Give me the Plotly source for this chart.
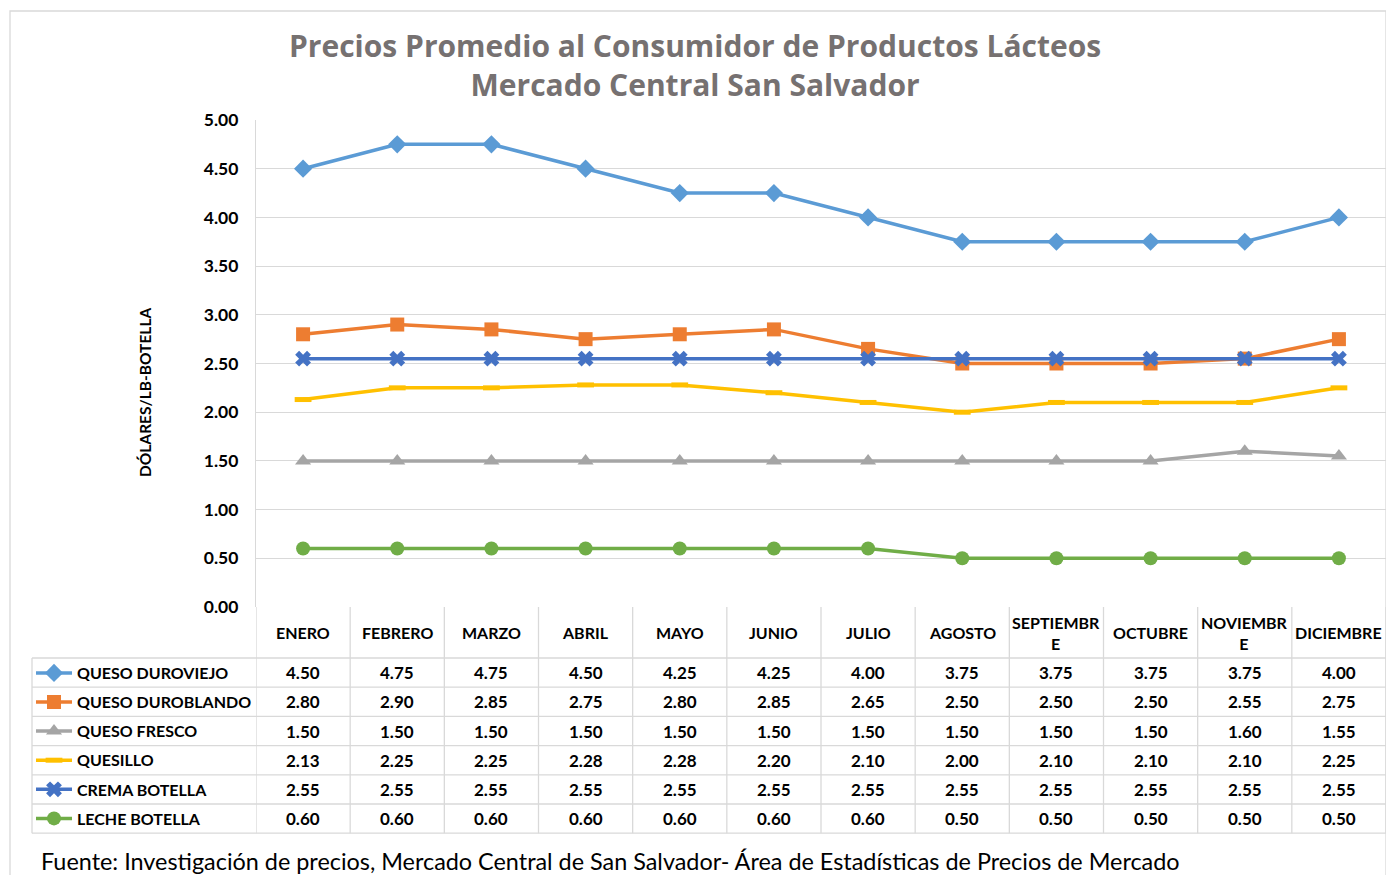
import plotly.graph_objects as go

W, H = 1394, 875
OFF = 8  # default page body margin
FW, FH = W - OFF, H - OFF

months = ["ENERO", "FEBRERO", "MARZO", "ABRIL", "MAYO", "JUNIO", "JULIO",
          "AGOSTO", "SEPTIEMBRE", "OCTUBRE", "NOVIEMBRE", "DICIEMBRE"]
month_labels = ["ENERO", "FEBRERO", "MARZO", "ABRIL", "MAYO", "JUNIO", "JULIO",
                "AGOSTO", "SEPTIEMBR<br>E", "OCTUBRE", "NOVIEMBR<br>E", "DICIEMBRE"]

series_names = ["QUESO DUROVIEJO", "QUESO DUROBLANDO", "QUESO FRESCO",
                "QUESILLO", "CREMA BOTELLA", "LECHE BOTELLA"]
queso_duroviejo = [4.50, 4.75, 4.75, 4.50, 4.25, 4.25, 4.00, 3.75, 3.75, 3.75, 3.75, 4.00]
queso_duroblando = [2.80, 2.90, 2.85, 2.75, 2.80, 2.85, 2.65, 2.50, 2.50, 2.50, 2.55, 2.75]
queso_fresco = [1.50, 1.50, 1.50, 1.50, 1.50, 1.50, 1.50, 1.50, 1.50, 1.50, 1.60, 1.55]
quesillo = [2.13, 2.25, 2.25, 2.28, 2.28, 2.20, 2.10, 2.00, 2.10, 2.10, 2.10, 2.25]
crema_botella = [2.55, 2.55, 2.55, 2.55, 2.55, 2.55, 2.55, 2.55, 2.55, 2.55, 2.55, 2.55]
leche_botella = [0.60, 0.60, 0.60, 0.60, 0.60, 0.60, 0.60, 0.50, 0.50, 0.50, 0.50, 0.50]
series_values = [queso_duroviejo, queso_duroblando, queso_fresco,
                 quesillo, crema_botella, leche_botella]

y_tick_values = [0, 0.5, 1.0, 1.5, 2.0, 2.5, 3.0, 3.5, 4.0, 4.5, 5.0]
y_tick_labels = ["0.00", "0.50", "1.00", "1.50", "2.00", "2.50",
                 "3.00", "3.50", "4.00", "4.50", "5.00"]

title_text = "Precios Promedio al Consumidor de Productos Lácteos<br>Mercado Central San Salvador"
y_title = "DÓLARES/LB-BOTELLA"
source_text = "Fuente: Investigación de precios, Mercado Central de San Salvador- Área de Estadísticas de Precios de Mercado"

# styles
colors = ["#5B9BD5", "#ED7D31", "#A5A5A5", "#FFC000", "#4472C4", "#70AD47"]
symbols = ["diamond", "square", "triangle-up", "line-ew", "x", "circle"]
sizes = [14, 14, 14, 12, 14, 14]

FONT = "Lato"
GRID = "#D9D9D9"


def px_x(p):
    return (p - OFF) / FW


def px_y(p):
    return 1 - (p - OFF) / FH


plot_left, plot_right = 256, 1386
plot_top, plot_bottom = 120, 607
table_left = 32
header_bottom = 658
row_h = 29.2

fig = go.Figure()

for i, (name, vals) in enumerate(zip(series_names, series_values)):
    mk = dict(symbol=symbols[i], size=sizes[i], color=colors[i])
    if symbols[i] == "line-ew":
        mk.update(line=dict(color=colors[i], width=5))
    else:
        mk.update(line=dict(color=colors[i], width=0))
    fig.add_trace(go.Scatter(
        x=list(range(len(months))), y=vals, name=name,
        mode="lines+markers",
        line=dict(color=colors[i], width=3.5),
        marker=mk, legendgroup=name,
    ))

annotations = []
shapes = []

# Title
annotations.append(dict(
    text=title_text, x=px_x(695), y=px_y(65), xref="paper", yref="paper",
    showarrow=False, xanchor="center", yanchor="middle",
    font=dict(family="Open Sans", size=30, color="#767171", weight="bold"),
))

# Y title
annotations.append(dict(
    text=y_title, x=px_x(145), y=px_y(393), xref="paper", yref="paper",
    showarrow=False, textangle=-90, xanchor="center", yanchor="middle",
    font=dict(family=FONT, size=15.5, color="#000000", weight="bold"),
))

# Header labels
for j, lab in enumerate(month_labels):
    annotations.append(dict(
        text=lab, x=j, y=px_y((plot_bottom + header_bottom) / 2), xref="x", yref="paper",
        showarrow=False, xanchor="center", yanchor="middle",
        font=dict(family=FONT, size=16, color="#000000", weight="bold"),
    ))

# Table values
for i, vals in enumerate(series_values):
    yc = header_bottom + row_h * (i + 0.5)
    for j, v in enumerate(vals):
        annotations.append(dict(
            text=f"{v:.2f}", x=j, y=px_y(yc), xref="x", yref="paper",
            showarrow=False, xanchor="center", yanchor="middle",
            font=dict(family=FONT, size=17, color="#000000", weight="bold"),
        ))

# Source
annotations.append(dict(
    text=source_text, x=px_x(39), y=px_y(861), xref="paper", yref="paper",
    showarrow=False, xanchor="left", yanchor="middle",
    font=dict(family=FONT, size=23.4, color="#000000"),
))

# Table grid lines
table_bottom = header_bottom + row_h * len(series_names)
for k in range(len(months) + 1):
    shapes.append(dict(type="line", xref="x", yref="paper",
                       x0=k - 0.5, x1=k - 0.5, y0=px_y(plot_bottom), y1=px_y(table_bottom),
                       line=dict(color=GRID, width=1.3)))
for r in range(len(series_names) + 1):
    yy = header_bottom + row_h * r
    shapes.append(dict(type="line", xref="paper", yref="paper",
                       x0=px_x(table_left), x1=px_x(plot_right), y0=px_y(yy), y1=px_y(yy),
                       line=dict(color=GRID, width=1.3)))
shapes.append(dict(type="line", xref="paper", yref="paper",
                   x0=px_x(table_left), x1=px_x(table_left),
                   y0=px_y(header_bottom), y1=px_y(table_bottom),
                   line=dict(color=GRID, width=1.3)))
# Outer chart border
shapes.append(dict(type="rect", xref="paper", yref="paper",
                   x0=px_x(10), x1=px_x(1386), y0=px_y(11), y1=px_y(885),
                   line=dict(color=GRID, width=1.3)))

fig.update_layout(
    width=FW, height=FH,
    margin=dict(l=0, r=0, t=0, b=0, autoexpand=False),
    paper_bgcolor="white", plot_bgcolor="white",
    annotations=annotations, shapes=shapes,
    showlegend=True,
    legend=dict(
        x=px_x(31), y=px_y(header_bottom - 2), xanchor="left", yanchor="top",
        font=dict(family=FONT, size=16, color="#000000", weight="bold"),
        tracegroupgap=5.3, itemwidth=36, bgcolor="rgba(0,0,0,0)",
        borderwidth=0,
    ),
    xaxis=dict(
        domain=[px_x(plot_left), px_x(plot_right)],
        range=[-0.5, len(months) - 0.5],
        showticklabels=False, showgrid=False, zeroline=False,
        showline=False, fixedrange=True, automargin=False,
    ),
    yaxis=dict(
        domain=[px_y(plot_bottom), px_y(plot_top)],
        range=[0, 5],
        tickvals=y_tick_values, ticktext=y_tick_labels,
        tickfont=dict(family=FONT, size=17.5, color="#000000", weight="bold"),
        showgrid=True, gridcolor=GRID, gridwidth=1.3,
        zeroline=False, showline=True, linecolor=GRID, linewidth=1.3,
        ticks="", ticklabelstandoff=13, fixedrange=True, automargin=False,
    ),
)

fig.write_html("out.html")
